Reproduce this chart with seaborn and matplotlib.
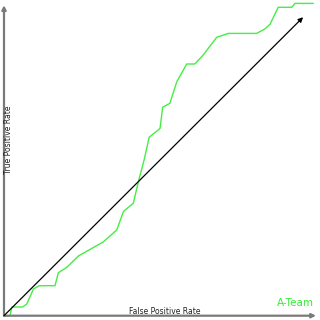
import matplotlib
matplotlib.use("Agg")
import matplotlib.pyplot as plt
import seaborn as sns
import pandas as pd

sns.set_theme(style="white")

# ROC curve points (false positive rate, true positive rate)
fpr = [0.0, 0.020, 0.026, 0.062, 0.076, 0.098, 0.118, 0.170, 0.181, 0.209,
       0.248, 0.331, 0.376, 0.398, 0.431, 0.448, 0.467, 0.484, 0.520, 0.529,
       0.553, 0.576, 0.609, 0.636, 0.664, 0.709, 0.748, 0.842, 0.870, 0.887,
       0.914, 0.959, 0.970, 1.031]
tpr = [0.0, 0.0, 0.029, 0.029, 0.039, 0.089, 0.100, 0.100, 0.143, 0.161,
       0.199, 0.246, 0.286, 0.347, 0.375, 0.447, 0.519, 0.595, 0.624, 0.695,
       0.708, 0.780, 0.839, 0.839, 0.869, 0.928, 0.941, 0.941, 0.956, 0.972,
       1.028, 1.028, 1.041, 1.041]
series_name = "A-Team"
x_label = "False Positive Rate"
y_label = "True Positive Rate"

df = pd.DataFrame({"fpr": fpr, "tpr": tpr})

fig = plt.figure(figsize=(3.2, 3.2), dpi=100)
ax = fig.add_axes([0, 0, 1, 1])
ax.set_xlim(-4 / 300, 316 / 300)
ax.set_ylim(-4.3 / 300, 315.7 / 300)
ax.axis("off")

# axes with arrows
arrow_kw = dict(arrowstyle="-|>", color="#7a7a7a", lw=1.6, mutation_scale=6,
                shrinkA=0, shrinkB=0)
ax.annotate("", xy=(0, 1.035), xytext=(0, 0), arrowprops=arrow_kw)
ax.annotate("", xy=(1.04, 0), xytext=(0, 0), arrowprops=arrow_kw)
# diagonal reference
ax.annotate("", xy=(0.997, 0.995), xytext=(0, 0),
            arrowprops=dict(arrowstyle="-|>", color="black", lw=0.9,
                            mutation_scale=7, shrinkA=0, shrinkB=0))

sns.lineplot(data=df, x="fpr", y="tpr", ax=ax, color="#44ee44", lw=1.0,
             sort=False, estimator=None)

ax.text(0.535, 0.014, x_label, fontsize=5.5, ha="center", va="center",
        color="#222222")
ax.text(0.015, 0.585, y_label, fontsize=5.5, ha="center", va="center",
        rotation=90, color="#222222")
ax.text(1.033, 0.043, series_name, fontsize=7.5, ha="right", va="center",
        color="#33ee33")

fig.savefig("out.png", dpi=100)
